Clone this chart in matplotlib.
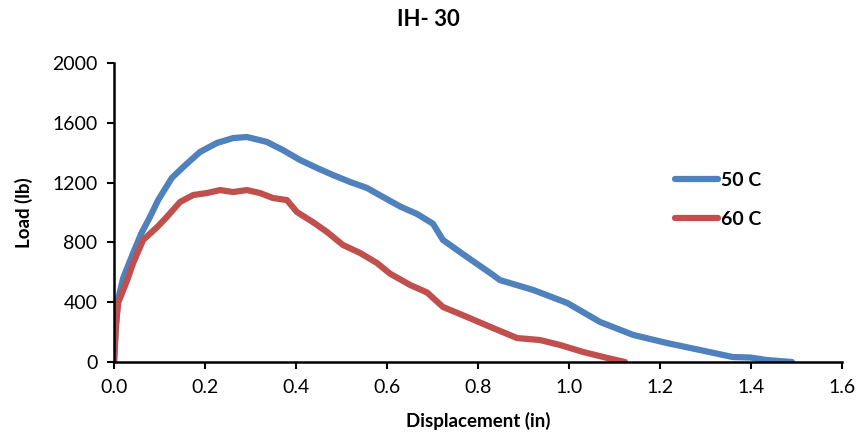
import matplotlib
matplotlib.use("Agg")
import matplotlib.pyplot as plt

# Load-displacement curves
disp_50 = [0.0, 0.004, 0.009, 0.02, 0.042, 0.06, 0.079, 0.097, 0.127, 0.152, 0.189, 0.226,
           0.262, 0.292, 0.336, 0.371, 0.409, 0.446, 0.481, 0.519, 0.556, 0.591,
           0.629, 0.666, 0.701, 0.723, 0.776, 0.833, 0.848, 0.921, 0.996, 1.068,
           1.141, 1.215, 1.288, 1.360, 1.398, 1.435, 1.490]
load_50 = [0, 220, 420, 560, 729, 860, 970, 1083, 1231, 1304, 1405, 1465,
           1498, 1505, 1472, 1418, 1351, 1298, 1251, 1204, 1164, 1104,
           1040, 990, 925, 816, 702, 582, 548, 482, 395, 268,
           181, 127, 80, 33, 30, 13, 0]

disp_60 = [0.0, 0.004, 0.009, 0.029, 0.042, 0.064, 0.095, 0.116, 0.145, 0.174, 0.204, 0.233,
           0.262, 0.292, 0.321, 0.349, 0.380, 0.402, 0.437, 0.468, 0.503, 0.541,
           0.578, 0.607, 0.651, 0.688, 0.723, 0.776, 0.833, 0.886, 0.936, 0.980,
           1.031, 1.084, 1.123]
load_60 = [0, 250, 395, 548, 662, 816, 903, 970, 1070, 1117, 1130, 1150,
           1137, 1150, 1130, 1097, 1083, 1003, 936, 870, 783, 729,
           662, 590, 515, 465, 368, 301, 227, 160, 147, 114,
           67, 27, 0]

x_ticks = [0.0, 0.2, 0.4, 0.6, 0.8, 1.0, 1.2, 1.4, 1.6]
y_ticks = [0, 400, 800, 1200, 1600, 2000]

plt.rcParams['font.family'] = ['Lato', 'DejaVu Sans']

fig = plt.figure(figsize=(8.56, 4.44), dpi=100)
ax = fig.add_axes([0.1332, 0.1847, 0.8505, 0.6734])

ax.plot(disp_50, load_50, color="#4F81BD", lw=4.5, solid_capstyle="round", label="50 C")
ax.plot(disp_60, load_60, color="#C0504D", lw=4.5, solid_capstyle="round", label="60 C")

ax.set_xlim(0, 1.6)
ax.set_ylim(0, 2000)
ax.set_xticks(x_ticks)
ax.set_xticklabels([f"{t:.1f}" for t in x_ticks])
ax.set_yticks(y_ticks)
ax.tick_params(direction="out", length=5, width=1.5, labelsize=14, pad=7)

for side in ["top", "right"]:
    ax.spines[side].set_visible(False)
for side in ["left", "bottom"]:
    ax.spines[side].set_linewidth(1.8)

ax.set_xlabel("Displacement (in)", fontsize=13.5, fontweight="bold", labelpad=12)
ax.set_ylabel("Load (lb)", fontsize=13.5, fontweight="bold", labelpad=14)
fig.suptitle("IH- 30", fontsize=16, fontweight="bold", y=0.98)

leg = ax.legend(loc="upper left", bbox_to_anchor=(0.747, 0.695), frameon=False,
                prop={"weight": "bold", "size": 14}, handlelength=2.2,
                handletextpad=0.15, labelspacing=1.15)

fig.savefig("out.png", dpi=100)
